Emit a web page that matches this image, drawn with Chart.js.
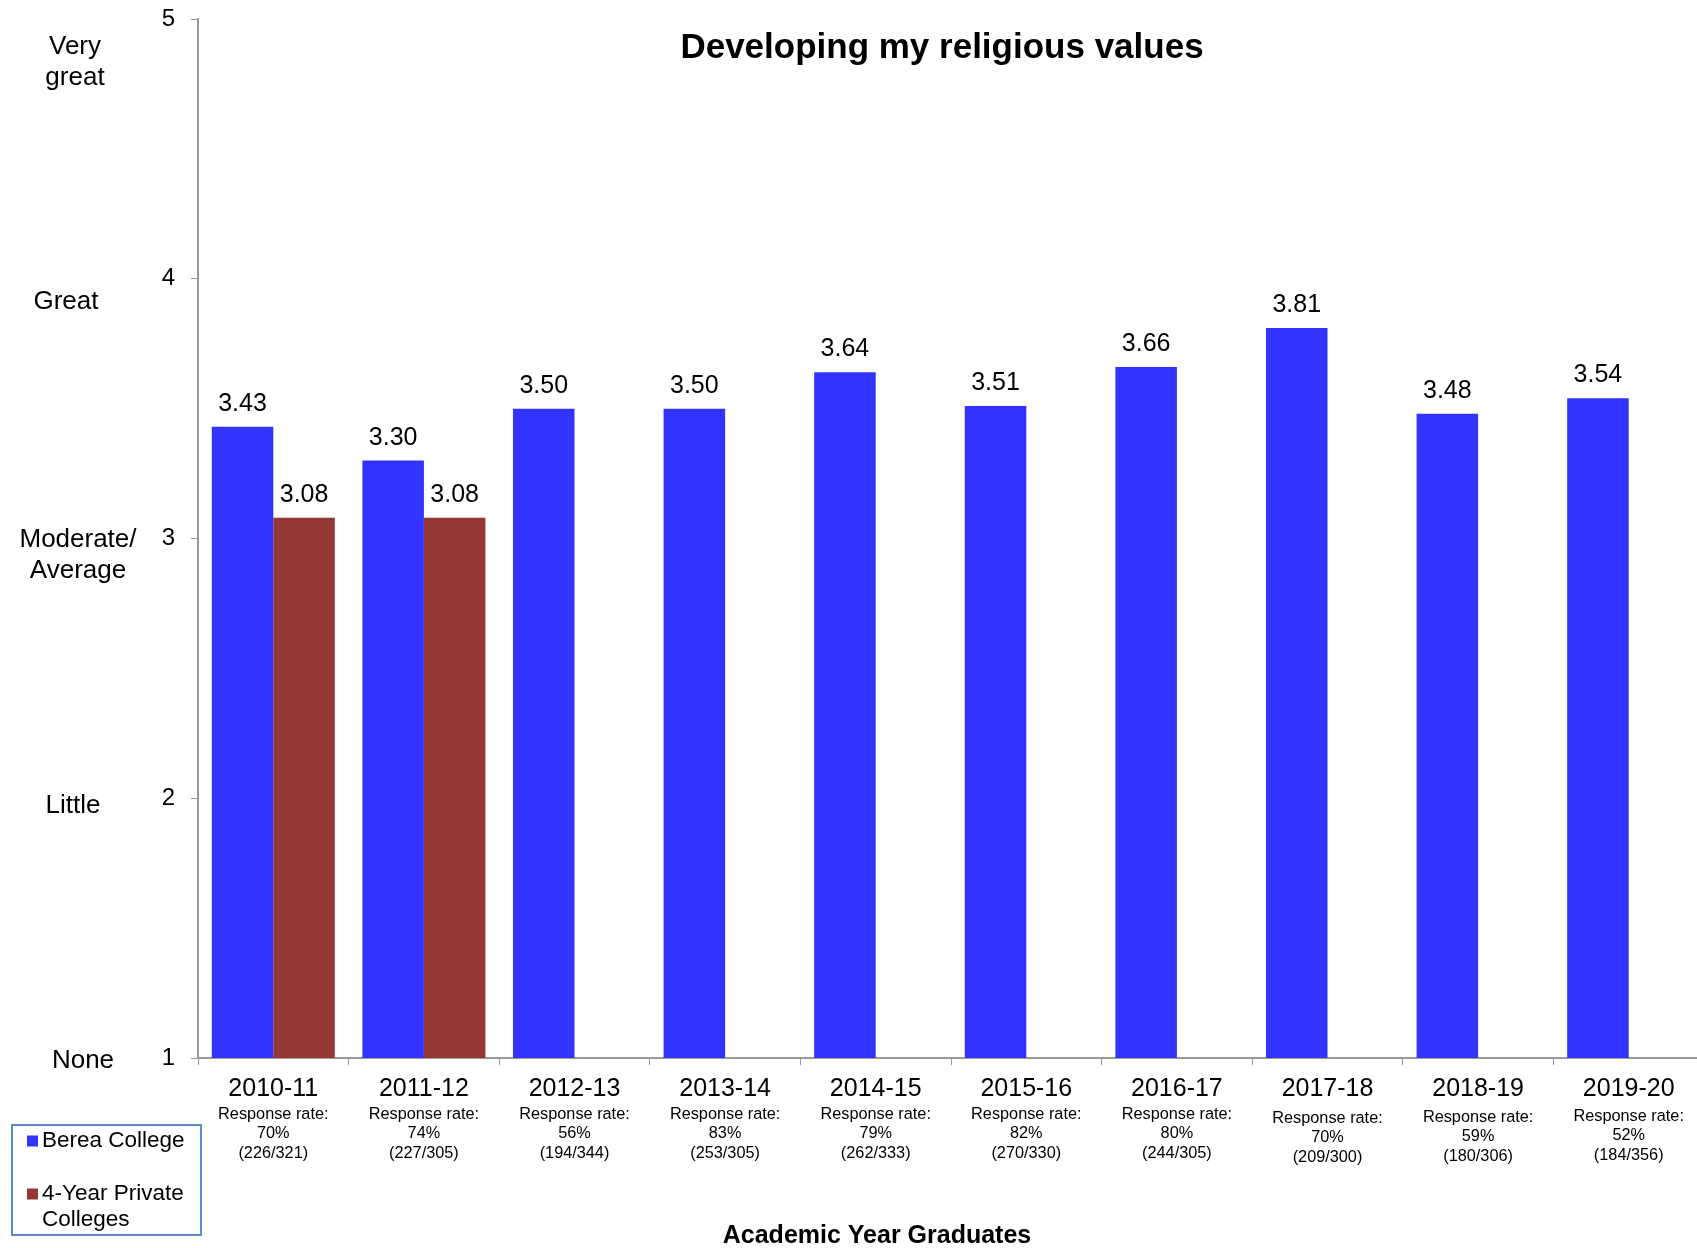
<!DOCTYPE html>
<html><head><meta charset="utf-8">
<script src="https://cdn.jsdelivr.net/npm/chart.js@4/dist/chart.umd.min.js"></script>
<style>html,body{margin:0;padding:0;overflow:hidden;background:#fff}#wrap{width:1710px;height:1248px}</style>
</head><body><div id="wrap"><canvas id="c" width="1710" height="1248"></canvas></div>
<script>
// ---- data ----
const categories = ['2010-11','2011-12','2012-13','2013-14','2014-15','2015-16','2016-17','2017-18','2018-19','2019-20'];
const bereaValues = [3.43, 3.30, 3.50, 3.50, 3.64, 3.51, 3.66, 3.81, 3.48, 3.54];
const privateValues = [3.08, 3.08, null, null, null, null, null, null, null, null];
const responseRates = ['70%','74%','56%','83%','79%','82%','80%','70%','59%','52%'];
const responseCounts = ['(226/321)','(227/305)','(194/344)','(253/305)','(262/333)','(270/330)','(244/305)','(209/300)','(180/306)','(184/356)'];
const yTickValues = [1, 2, 3, 4, 5];
const yTickDescriptions = ['None', 'Little', 'Moderate/\nAverage', 'Great', 'Very\ngreat'];
const seriesNames = ['Berea College', '4-Year Private Colleges'];
const chartTitle = 'Developing my religious values';
const xAxisTitle = 'Academic Year Graduates';
const responsePrefix = 'Response rate:';

// ---- styles / layout ----
const FONT = "'Liberation Sans', Arial, Helvetica, sans-serif";
const COLORS = ['#3333FF', '#953735'];
const AXIS_COLOR = '#9a9a9a';
const descLayout = [ {x:83, dy:3}, {x:73, dy:8}, {x:78, dy:17}, {x:66, dy:23}, {x:75, dy:43} ];
const responseShift = [0, 0, 0, 0, 0, 0, 0, 4, 3, 2];

const overlayPlugin = {
  id: 'overlay',
  afterDatasetsDraw(chart) {
    const ctx = chart.ctx;
    ctx.save();
    ctx.font = '25px ' + FONT;
    ctx.fillStyle = '#000';
    ctx.textAlign = 'center';
    ctx.textBaseline = 'alphabetic';
    chart.data.datasets.forEach((ds, di) => {
      const meta = chart.getDatasetMeta(di);
      meta.data.forEach((el, i) => {
        const v = ds.data[i];
        if (v === null || v === undefined) return;
        ctx.fillText(v.toFixed(2), el.x, el.y - 16);
      });
    });
    ctx.restore();
  },
  afterDraw(chart) {
    const ctx = chart.ctx;
    const xs = chart.scales.x, ys = chart.scales.y;
    ctx.save();
    ctx.fillStyle = '#000';
    ctx.font = 'bold 35px ' + FONT;
    ctx.textAlign = 'center';
    ctx.textBaseline = 'alphabetic';
    ctx.fillText(chartTitle, 942, 58);
    ctx.font = 'bold 25px ' + FONT;
    ctx.textBaseline = 'middle';
    ctx.fillText(xAxisTitle, 877, 1236);
    ctx.font = '16.3px ' + FONT;
    categories.forEach((c, i) => {
      const x = xs.getPixelForValue(i);
      const s = responseShift[i];
      ctx.fillText(responsePrefix, x, xs.top + 57 + s);
      ctx.fillText(responseRates[i], x, xs.top + 76 + s);
      ctx.fillText(responseCounts[i], x, xs.top + 96 + s);
    });
    ctx.font = '26px ' + FONT;
    yTickValues.forEach((v, i) => {
      const lines = yTickDescriptions[i].split('\n');
      const lh = 31;
      const cy = ys.getPixelForValue(v) + descLayout[i].dy;
      lines.forEach((ln, k) => {
        ctx.fillText(ln, descLayout[i].x, cy + (k - (lines.length - 1) / 2) * lh);
      });
    });
    const lx = 12, ly = 1125, lw = 189, lh = 110;
    ctx.strokeStyle = '#5b8dc9';
    ctx.lineWidth = 2;
    ctx.strokeRect(lx, ly, lw, lh);
    ctx.font = '22.5px ' + FONT;
    ctx.textAlign = 'left';
    const itemY = [1141, 1194];
    chart.data.datasets.forEach((ds, di) => {
      ctx.fillStyle = ds.backgroundColor;
      ctx.fillRect(27, itemY[di] - 5.5, 11, 11);
      ctx.fillStyle = '#000';
      const words = ds.label.split(' ');
      const lines = [];
      let cur = '';
      words.forEach(w => {
        const t = cur ? cur + ' ' + w : w;
        if (ctx.measureText(t).width > 155 && cur) { lines.push(cur); cur = w; } else cur = t;
      });
      lines.push(cur);
      lines.forEach((ln, k) => ctx.fillText(ln, 42, itemY[di] + k * 26));
    });
    ctx.restore();
  }
};

new Chart(document.getElementById('c'), {
  type: 'bar',
  data: {
    labels: categories,
    datasets: [
      { label: seriesNames[0], data: bereaValues, backgroundColor: COLORS[0] },
      { label: seriesNames[1], data: privateValues, backgroundColor: COLORS[1] }
    ]
  },
  options: {
    responsive: false,
    animation: false,
    devicePixelRatio: 1,
    layout: { padding: { left: 0, top: 19, right: 6, bottom: 0 } },
    datasets: { bar: { categoryPercentage: 0.817, barPercentage: 1.0 } },
    plugins: { legend: { display: false }, title: { display: false }, tooltip: { enabled: false } },
    scales: {
      x: {
        grid: { display: true, drawOnChartArea: false, drawTicks: true, tickLength: 7, color: AXIS_COLOR, offset: true },
        border: { display: true, color: AXIS_COLOR, width: 2 },
        ticks: { color: '#000', font: { family: FONT, size: 25 }, padding: 9, maxRotation: 0, autoSkip: false },
        afterFit(scale) { scale.height = 190; scale.paddingLeft = 0; scale.paddingRight = 0; }
      },
      y: {
        min: 1, max: 5,
        grid: { display: true, drawOnChartArea: false, drawTicks: true, tickLength: 7, color: AXIS_COLOR },
        border: { display: true, color: AXIS_COLOR, width: 2 },
        ticks: { stepSize: 1, color: '#000', font: { family: FONT, size: 24 }, padding: 16,
                 callback: (v) => Number.isInteger(v) ? String(v) : '' },
        afterFit(scale) { scale.width = 198; scale.paddingTop = 0; scale.paddingBottom = 0; }
      }
    }
  },
  plugins: [overlayPlugin]
});
</script>
</body></html>
